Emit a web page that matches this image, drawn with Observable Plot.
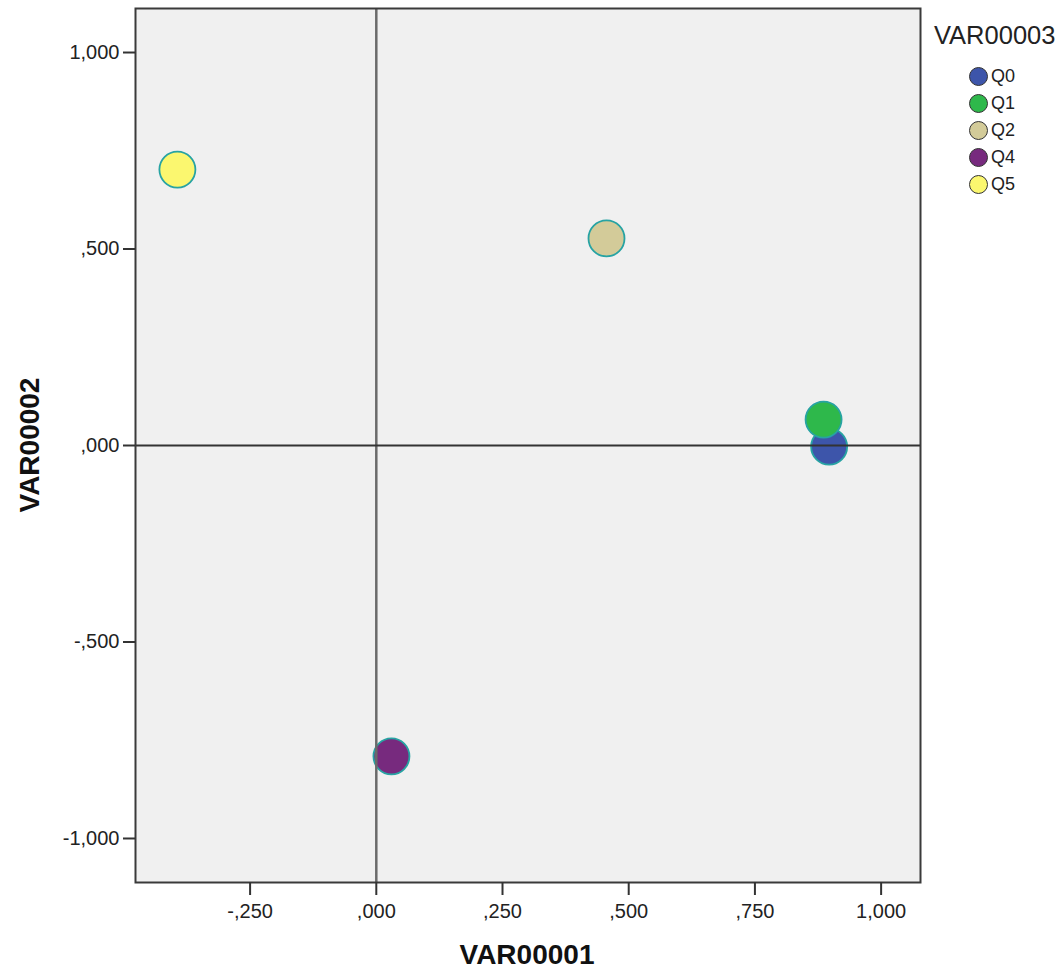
<!DOCTYPE html>
<html>
<head>
<meta charset="utf-8">
<script src="https://cdn.jsdelivr.net/npm/d3@7"></script>
<script src="https://cdn.jsdelivr.net/npm/@observablehq/plot@0.6"></script>
<style>
  html, body { margin: 0; padding: 0; background: #fff; }
  #wrap { position: relative; width: 1061px; height: 972px; font-family: "Liberation Sans", Arial, sans-serif; }
  #wrap svg { position: absolute; left: 0; top: 0; }
  .xtitle { position: absolute; left: 0; width: 1054px; top: 939px; text-align: center; font-weight: bold; font-size: 28px; line-height: 32px; color: #111; }
  .ytitle { position: absolute; left: 30px; top: 445px; transform: translate(-50%, -50%) rotate(-90deg); font-weight: bold; font-size: 28px; color: #111; white-space: nowrap; }
  .legend { position: absolute; left: 934px; top: 20px; color: #222; }
  .legend .title { font-size: 25.5px; line-height: 30px; margin-bottom: 13px; }
  .legend .item { display: flex; align-items: center; height: 27px; font-size: 18px; margin-left: 35px; }
  .legend .sw { width: 19px; height: 19px; border-radius: 50%; border: 1.3px solid #333; margin-right: 3px; box-sizing: border-box; }
</style>
</head>
<body>
<div id="wrap"></div>
<script>
const categories = ["Q0", "Q1", "Q2", "Q4", "Q5"];
const xValues = [0.897, 0.886, 0.456, 0.030, -0.394];
const yValues = [-0.003, 0.066, 0.527, -0.791, 0.702];
const colors = ["#3d55aa", "#2eb84b", "#d3cb99", "#772a7e", "#fbf76f"];
const xTicks = [-0.25, 0, 0.25, 0.5, 0.75, 1];
const yTicks = [-1, -0.5, 0, 0.5, 1];
const xTitle = "VAR00001";
const yTitle = "VAR00002";
const legendTitle = "VAR00003";

const data = categories.map((c, i) => ({cat: c, x: xValues[i], y: yValues[i]}));
const fmt = v => {
  const s = Math.abs(v).toFixed(3).replace(/^0\./, ".").replace(".", ",");
  return (v < 0 ? "-" : "") + s;
};

const chart = Plot.plot({
  width: 1061,
  height: 972,
  marginLeft: 135,
  marginRight: 141,
  marginTop: 8,
  marginBottom: 90,
  style: {fontFamily: "'Liberation Sans', Arial, sans-serif", background: "transparent", color: "#222"},
  x: {domain: [-0.477, 1.078], label: null},
  y: {domain: [-1.112, 1.112], label: null},
  color: {domain: categories, range: colors},
  marks: [
    Plot.frame({fill: "#f0f0f0", stroke: "none"}),
    Plot.dot(data, {x: "x", y: "y", r: 18, fill: "cat", stroke: "#27a3a3", strokeWidth: 1.8, fillOpacity: 1}),
    Plot.ruleX([0], {stroke: "#6a6a6a", strokeWidth: 2.5}),
    Plot.ruleY([0], {stroke: "#333", strokeWidth: 2}),
    Plot.frame({stroke: "#3a3a3a", strokeWidth: 2}),
    Plot.axisX({ticks: xTicks, tickFormat: fmt, tickSize: 13, tickPadding: 8, fontSize: 20, label: null, stroke: "#333", strokeWidth: 2}),
    Plot.axisY({ticks: yTicks, tickFormat: fmt, tickSize: 12, tickPadding: 4, fontSize: 20, label: null, stroke: "#333", strokeWidth: 2})
  ]
});

const wrap = document.getElementById("wrap");
wrap.appendChild(chart);

const xt = document.createElement("div"); xt.className = "xtitle"; xt.textContent = xTitle; wrap.appendChild(xt);
const yt = document.createElement("div"); yt.className = "ytitle"; yt.textContent = yTitle; wrap.appendChild(yt);

const lg = document.createElement("div"); lg.className = "legend";
const lt = document.createElement("div"); lt.className = "title"; lt.textContent = legendTitle; lg.appendChild(lt);
categories.forEach((c, i) => {
  const it = document.createElement("div"); it.className = "item";
  const sw = document.createElement("span"); sw.className = "sw"; sw.style.background = colors[i];
  const tx = document.createElement("span"); tx.textContent = c;
  it.appendChild(sw); it.appendChild(tx); lg.appendChild(it);
});
wrap.appendChild(lg);
</script>
</body>
</html>
